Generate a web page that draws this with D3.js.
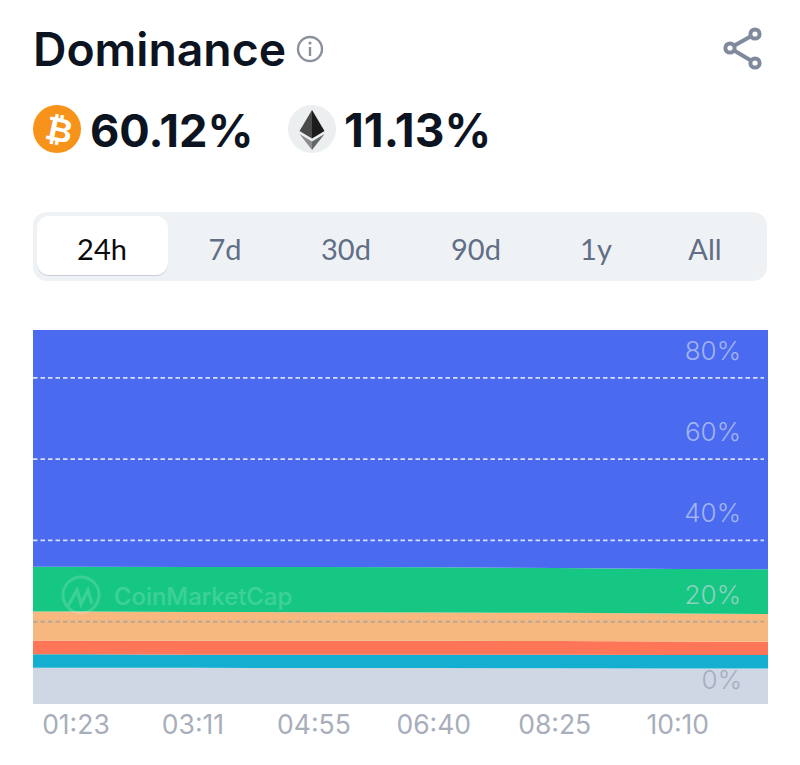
<!DOCTYPE html>
<html><head><meta charset="utf-8">
<script src="https://cdnjs.cloudflare.com/ajax/libs/d3/7.8.5/d3.min.js"></script>
<style>html,body{margin:0;padding:0;background:#fff}svg{display:block}text{font-family:Inter,sans-serif}</style>
</head><body><svg id="c" width="800" height="765"></svg>
<script>
const tickLabels = ["01:23","03:11","04:55","06:40","08:25","10:10"];
const tickPos    = [0,0.972,1.977,2.973,3.978,5];
const samplePos  = [-0.357,0,1,2,3,4,5,5.75];
const seriesKeys = ["others","teal","red","orange","eth","btc"];
const others = [8.7,8.7,8.65,8.6,8.6,8.55,8.5,8.5];
const teal   = [3.3,3.3,3.25,3.25,3.25,3.3,3.3,3.3];
const red    = [3.4,3.4,3.45,3.5,3.45,3.4,3.35,3.3];
const orange = [7.1,7.1,7.05,7.0,7.0,6.95,6.85,6.8];
const eth    = [11.05,11.05,11.05,11.1,11.1,11.05,11.0,11.0];
const btc    = [58.25,58.25,58.35,58.35,58.4,58.55,58.8,58.9];
const yTicks = [0,20,40,60,80];
const tabs = ["24h","7d","30d","90d","1y","All"];
const tabCenters = [102,225,346,476,596,705];
const colors = {others:"#cfd6e4",teal:"#14aed0",red:"#ff7558",orange:"#f6b87e",eth:"#16c784",btc:"#4a6bf0"};
const valuesByKey = {others,teal,red,orange,eth,btc};

const svg = d3.select("#c");
const ink = "#0d1421";

// header
svg.append("text").attr("x",33).attr("y",66).attr("font-size",46.3).attr("font-weight",600).attr("fill",ink).text("Dominance");
const info = svg.append("g").attr("transform","translate(310,49)");
info.append("circle").attr("r",12).attr("fill","none").attr("stroke","#8a909c").attr("stroke-width",2.4);
info.append("rect").attr("x",-1.2).attr("y",-2).attr("width",2.4).attr("height",9).attr("fill","#8a909c");
info.append("circle").attr("cy",-6).attr("r",1.6).attr("fill","#8a909c");
const share = svg.append("g").attr("fill","#fff").attr("stroke","#808a9d").attr("stroke-width",4);
share.append("path").attr("fill","none").attr("d","M730 48L755 34M730 48L755 63");
share.selectAll("circle").data([[730,48],[755,34],[755,63]]).join("circle").attr("cx",d=>d[0]).attr("cy",d=>d[1]).attr("r",4.6);

svg.append("circle").attr("cx",57).attr("cy",129).attr("r",24).attr("fill","#f7931a");
svg.append("text").attr("transform","translate(57,141) rotate(12)").attr("text-anchor","middle")
  .style("font-family","'DejaVu Sans',sans-serif").attr("font-size",33).attr("font-weight",700).attr("fill","#fff").text("\u20BF");
svg.append("text").attr("x",90).attr("y",147).attr("font-size",45.2).attr("font-weight",700).attr("fill",ink).text("60.12%");
svg.append("circle").attr("cx",312).attr("cy",129).attr("r",24).attr("fill","#eceff0");
const ethG = svg.append("g").attr("transform","translate(312,0)");
[["M0 110L-12.5 131L0 138.5Z","#4a4a4b"],["M0 110L12.5 131L0 138.5Z","#1c1c1c"],
 ["M-12.5 134L0 141.5L0 150Z","#8c8c8c"],["M12.5 134L0 141.5L0 150Z","#62686a"]]
 .forEach(p=>ethG.append("path").attr("d",p[0]).attr("fill",p[1]));
svg.append("text").attr("x",344).attr("y",147).attr("font-size",46).attr("font-weight",700).attr("fill",ink).text("11.13%");

// tabs
svg.append("rect").attr("x",33).attr("y",212).attr("width",734).attr("height",69).attr("rx",14).attr("fill","#eff2f5");
svg.append("rect").attr("x",37).attr("y",217).attr("width",131).attr("height",59).attr("rx",12).attr("fill","#c9cfda");
svg.append("rect").attr("x",37).attr("y",216).attr("width",131).attr("height",59).attr("rx",12).attr("fill","#fff");
svg.selectAll(".tab").data(tabs).join("text").attr("class","tab")
  .attr("x",(d,i)=>tabCenters[i]).attr("y",260).attr("text-anchor","middle")
  .style("font-family","'Liberation Sans Narrow',Lato,sans-serif").attr("font-size",29)
  .attr("fill",(d,i)=>i===0?"#0a0a0a":"#616e85").text(d=>d);

// chart
const x = d3.scaleLinear().domain([samplePos[0],samplePos[samplePos.length-1]]).range([33,768]);
const y = d3.scaleLinear().domain([0,91.8]).range([703,330]);
const rows = samplePos.map((p,i)=>{const r={p};seriesKeys.forEach(k=>r[k]=valuesByKey[k][i]);return r;});
const stack = d3.stack().keys(seriesKeys)(rows);
const area = d3.area().x(d=>x(d.data.p)).y0(d=>y(d[0])).y1(d=>y(d[1]));
svg.append("rect").attr("x",x.range()[0]).attr("width",x.range()[1]-x.range()[0]).attr("y",y(0)).attr("height",1).attr("fill",colors.others);
svg.selectAll(".band").data(stack).join("path").attr("class","band").attr("d",area).attr("fill",d=>colors[d.key]);

// watermark
const wm = svg.append("g").attr("opacity",.16).attr("fill","none").attr("stroke","#fff");
wm.append("circle").attr("cx",81).attr("cy",595).attr("r",18).attr("stroke-width",3);
wm.append("path").attr("stroke-width",3.2).attr("d","M68 606L77 590L81 604L88 590L92 604");
svg.append("text").attr("x",114).attr("y",605).attr("font-size",23.9).attr("font-weight",500).attr("fill","#fff").attr("opacity",.17).text("CoinMarketCap");

// grid
svg.selectAll(".grid").data(yTicks.filter(d=>d>0)).join("line").attr("class","grid")
  .attr("x1",33).attr("x2",764).attr("y1",d=>y(d)).attr("y2",d=>y(d))
  .attr("stroke",d=>d===20?"#b9a795":"#d8def5").attr("stroke-width",1.8).attr("stroke-dasharray","4.5 3");
svg.selectAll(".yl").data(yTicks).join("text").attr("class","yl")
  .attr("x",d=>d===0?742:741).attr("y",d=>d===0?y(d)-14:y(d)-18).attr("text-anchor","end")
  .attr("font-size",26).attr("font-weight",300)
  .attr("fill",d=>d===0?"#a6aebc":d===20?"#8fd0c0":"#a3b3f2").text(d=>d+"%");
svg.selectAll(".xl").data(tickLabels).join("text").attr("class","xl")
  .attr("x",(d,i)=>x(tickPos[i])).attr("y",734).attr("text-anchor","middle")
  .attr("font-size",26.5).attr("fill","#a8aeba").text(d=>d);
</script></body></html>
